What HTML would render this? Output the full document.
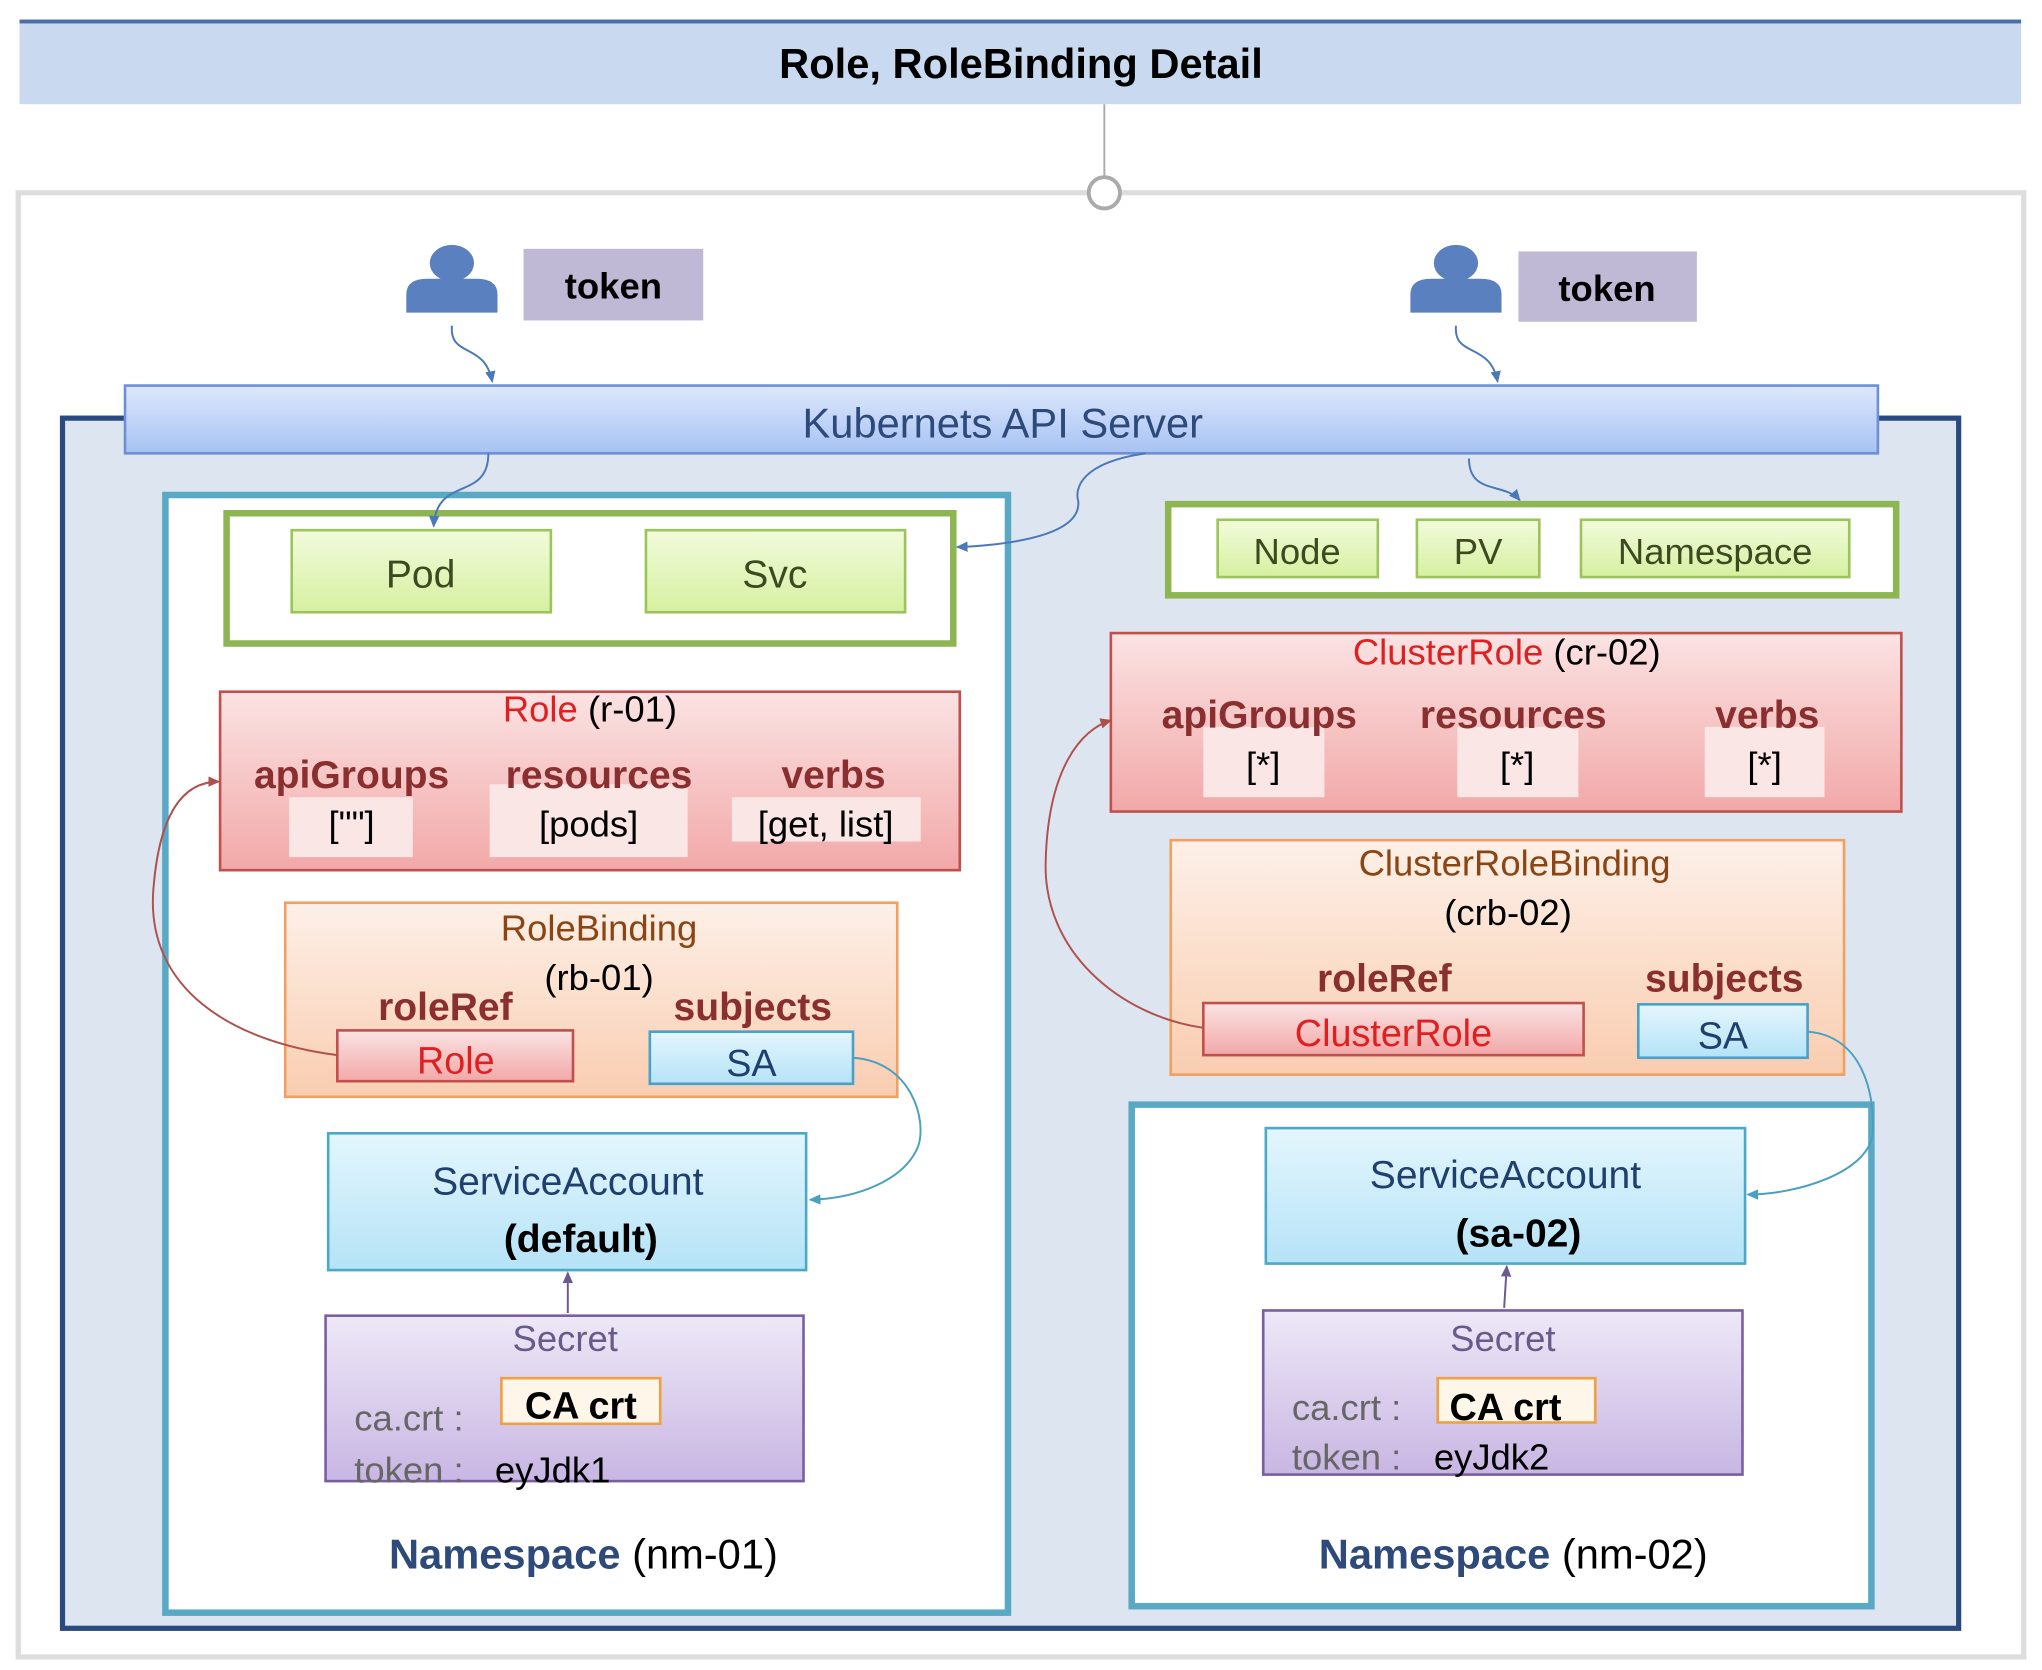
<!DOCTYPE html>
<html><head><meta charset="utf-8"><style>
html,body{margin:0;padding:0;background:#fff;}
svg{display:block;font-family:"Liberation Sans",sans-serif;}
</style></head><body>
<svg width="2042" height="1670" viewBox="0 0 1568 1282" preserveAspectRatio="none" xmlns="http://www.w3.org/2000/svg">
<defs>
<linearGradient id="gb" x1="0" y1="0" x2="0" y2="1"><stop offset="0" stop-color="#dde8fc"/><stop offset="1" stop-color="#a7c2f3"/></linearGradient>
<linearGradient id="gg" x1="0" y1="0" x2="0" y2="1"><stop offset="0" stop-color="#f2fbdc"/><stop offset="1" stop-color="#d6f0a0"/></linearGradient>
<linearGradient id="gr" x1="0" y1="0" x2="0" y2="1"><stop offset="0" stop-color="#fbe3e3"/><stop offset="1" stop-color="#f2a8a8"/></linearGradient>
<linearGradient id="go" x1="0" y1="0" x2="0" y2="1"><stop offset="0" stop-color="#fdf0e8"/><stop offset="1" stop-color="#f9cdb0"/></linearGradient>
<linearGradient id="gc" x1="0" y1="0" x2="0" y2="1"><stop offset="0" stop-color="#e4f6fd"/><stop offset="1" stop-color="#b5e3f7"/></linearGradient>
<linearGradient id="gp" x1="0" y1="0" x2="0" y2="1"><stop offset="0" stop-color="#eee8f7"/><stop offset="1" stop-color="#c8b6e3"/></linearGradient>
<marker id="ab" markerWidth="10" markerHeight="10" refX="8" refY="5" orient="auto" markerUnits="userSpaceOnUse"><path d="M0,1 L9,5 L0,9 z" fill="#4a78b8"/></marker>
<marker id="ar" markerWidth="10" markerHeight="10" refX="8" refY="5" orient="auto" markerUnits="userSpaceOnUse"><path d="M0,1 L9,5 L0,9 z" fill="#b0504d"/></marker>
<marker id="ac" markerWidth="10" markerHeight="10" refX="8" refY="5" orient="auto" markerUnits="userSpaceOnUse"><path d="M0,1 L9,5 L0,9 z" fill="#4aa0c0"/></marker>
<marker id="ap" markerWidth="10" markerHeight="10" refX="8" refY="5" orient="auto" markerUnits="userSpaceOnUse"><path d="M0,1 L9,5 L0,9 z" fill="#6a5a90"/></marker>
</defs>
<!-- title -->
<rect x="15" y="17" width="1537" height="63" fill="#c9d9ef"/>
<rect x="15" y="15" width="1537" height="3" fill="#4a6fa5"/>
<text x="784" y="60" font-size="32" font-weight="bold" text-anchor="middle">Role, RoleBinding Detail</text>
<line x1="848" y1="80" x2="848" y2="136" stroke="#aaa" stroke-width="1.5"/>
<rect x="14" y="148" width="1540" height="1124" fill="#fff" stroke="#ddd" stroke-width="4"/>
<circle cx="848" cy="148" r="12" fill="#fff" stroke="#aaa" stroke-width="3"/>
<!-- dark blue frame -->
<rect x="48" y="321" width="1456" height="929" fill="#dde5f0" stroke="#2a4a7f" stroke-width="4"/>
<!-- users -->
<g fill="#5b80bf">
<ellipse cx="347" cy="202" rx="17" ry="14"/><path d="M312,240 L312,226 Q312,214 328,214 L366,214 Q382,214 382,226 L382,240 z"/>
<ellipse cx="1118" cy="202" rx="17" ry="14"/><path d="M1083,240 L1083,226 Q1083,214 1099,214 L1137,214 Q1153,214 1153,226 L1153,240 z"/>
</g>
<rect x="402" y="191" width="138" height="55" fill="#c0b9d6"/>
<text x="471" y="229" font-size="28" font-weight="bold" text-anchor="middle">token</text>
<rect x="1166" y="193" width="137" height="54" fill="#c0b9d6"/>
<text x="1234" y="231" font-size="28" font-weight="bold" text-anchor="middle">token</text>
<path d="M347,250 C345,275 372,262 378,293" fill="none" stroke="#4a78b8" stroke-width="1.5" marker-end="url(#ab)"/>
<path d="M1118,250 C1116,275 1144,262 1150,293" fill="none" stroke="#4a78b8" stroke-width="1.5" marker-end="url(#ab)"/>
<!-- API -->
<rect x="96" y="296" width="1346" height="52" fill="url(#gb)" stroke="#6d8fd6" stroke-width="2"/>
<text x="770" y="336" font-size="32" fill="#2d4a7a" text-anchor="middle">Kubernets API Server</text>
<!-- left namespace -->
<rect x="127" y="380" width="647" height="858" fill="#fff" stroke="#5aa9c4" stroke-width="5"/>
<rect x="174" y="394" width="558" height="100" fill="#fff" stroke="#8db551" stroke-width="5"/>
<rect x="224" y="407" width="199" height="63" fill="url(#gg)" stroke="#9bc45a" stroke-width="2"/>
<text x="323" y="451" font-size="30" fill="#3d4a1f" text-anchor="middle">Pod</text>
<rect x="496" y="407" width="199" height="63" fill="url(#gg)" stroke="#9bc45a" stroke-width="2"/>
<text x="595" y="451" font-size="30" fill="#3d4a1f" text-anchor="middle">Svc</text>
<path d="M375,348 C375,385 335,365 333,404" fill="none" stroke="#4a78b8" stroke-width="1.5" marker-end="url(#ab)"/>
<path d="M880,348 C830,355 825,375 828,385 C830,410 780,418 735,420" fill="none" stroke="#4a78b8" stroke-width="1.5" marker-end="url(#ab)"/>
<!-- Role -->
<rect x="169" y="531" width="568" height="137" fill="url(#gr)" stroke="#c0504d" stroke-width="2"/>
<text x="453" y="554" font-size="28" text-anchor="middle"><tspan fill="#e02020">Role</tspan> (r-01)</text>
<rect x="222" y="612" width="95" height="46" fill="#fbe6e6"/>
<rect x="376" y="602" width="152" height="56" fill="#fbe6e6"/>
<rect x="562" y="612" width="145" height="34" fill="#fbe6e6"/>
<g font-size="30" font-weight="bold" fill="#8a2f2f" text-anchor="middle">
<text x="270" y="605">apiGroups</text><text x="460" y="605">resources</text><text x="640" y="605">verbs</text></g>
<g font-size="28" text-anchor="middle"><text x="270" y="642">[""]</text><text x="452" y="642">[pods]</text><text x="634" y="642">[get, list]</text></g>
<!-- RoleBinding -->
<rect x="219" y="693" width="470" height="149" fill="url(#go)" stroke="#f0a060" stroke-width="2"/>
<text x="460" y="722" font-size="28" fill="#8b4513" text-anchor="middle">RoleBinding</text>
<text x="460" y="760" font-size="28" text-anchor="middle">(rb-01)</text>
<text x="342" y="783" font-size="30" font-weight="bold" fill="#8a2f2f" text-anchor="middle">roleRef</text>
<text x="578" y="783" font-size="30" font-weight="bold" fill="#8a2f2f" text-anchor="middle">subjects</text>
<rect x="259" y="791" width="181" height="39" fill="url(#gr)" stroke="#c0504d" stroke-width="2"/>
<text x="350" y="824" font-size="29" fill="#e02020" text-anchor="middle">Role</text>
<rect x="499" y="792" width="156" height="40" fill="url(#gc)" stroke="#4aa0c8" stroke-width="2"/>
<text x="577" y="826" font-size="29" fill="#1f3f6f" text-anchor="middle">SA</text>
<path d="M259,810 C180,800 110,760 118,680 C124,610 150,600 168,600" fill="none" stroke="#b0504d" stroke-width="1.5" marker-end="url(#ar)"/>
<!-- SA -->
<rect x="252" y="870" width="367" height="105" fill="url(#gc)" stroke="#4aa8c8" stroke-width="2"/>
<text x="436" y="917" font-size="30" fill="#1f3f6f" text-anchor="middle">ServiceAccount</text>
<text x="446" y="961" font-size="30" font-weight="bold" text-anchor="middle">(default)</text>
<path d="M655,812 C700,815 712,860 705,880 C695,905 660,920 622,921" fill="none" stroke="#4aa0c0" stroke-width="1.5" marker-end="url(#ac)"/>
<!-- Secret -->
<rect x="250" y="1010" width="367" height="127" fill="url(#gp)" stroke="#7a5fa0" stroke-width="2"/>
<path d="M436,1008 L436,977" stroke="#6a5a90" stroke-width="1.5" marker-end="url(#ap)"/>
<text x="434" y="1037" font-size="28" fill="#6a5a8a" text-anchor="middle">Secret</text>
<text x="272" y="1098" font-size="28" fill="#666">ca.crt :</text>
<rect x="385" y="1058" width="122" height="35" fill="#fff6ea" stroke="#f0a040" stroke-width="2"/>
<text x="446" y="1089" font-size="29" font-weight="bold" text-anchor="middle">CA crt</text>
<text x="272" y="1138" font-size="28" fill="#666">token :</text>
<text x="380" y="1138" font-size="28">eyJdk1</text>
<text x="448" y="1204" font-size="32" text-anchor="middle"><tspan font-weight="bold" fill="#2d4a7a">Namespace</tspan> (nm-01)</text>
<!-- right top green -->
<path d="M1128,352 C1128,380 1155,370 1167,384" fill="none" stroke="#4a78b8" stroke-width="1.5" marker-end="url(#ab)"/>
<rect x="897" y="387" width="559" height="70" fill="#fff" stroke="#8db551" stroke-width="5"/>
<rect x="935" y="399" width="123" height="44" fill="url(#gg)" stroke="#9bc45a" stroke-width="2"/>
<text x="996" y="433" font-size="28" fill="#3d4a1f" text-anchor="middle">Node</text>
<rect x="1088" y="399" width="94" height="44" fill="url(#gg)" stroke="#9bc45a" stroke-width="2"/>
<text x="1135" y="433" font-size="28" fill="#3d4a1f" text-anchor="middle">PV</text>
<rect x="1214" y="399" width="206" height="44" fill="url(#gg)" stroke="#9bc45a" stroke-width="2"/>
<text x="1317" y="433" font-size="28" fill="#3d4a1f" text-anchor="middle">Namespace</text>
<!-- ClusterRole -->
<rect x="853" y="486" width="607" height="137" fill="url(#gr)" stroke="#c0504d" stroke-width="2"/>
<text x="1157" y="510" font-size="28" text-anchor="middle"><tspan fill="#e02020">ClusterRole</tspan> (cr-02)</text>
<rect x="924" y="558" width="93" height="54" fill="#fbe6e6"/>
<rect x="1119" y="558" width="93" height="54" fill="#fbe6e6"/>
<rect x="1309" y="558" width="92" height="54" fill="#fbe6e6"/>
<g font-size="30" font-weight="bold" fill="#8a2f2f" text-anchor="middle">
<text x="967" y="559">apiGroups</text><text x="1162" y="559">resources</text><text x="1357" y="559">verbs</text></g>
<g font-size="28" text-anchor="middle"><text x="970" y="597">[*]</text><text x="1165" y="597">[*]</text><text x="1355" y="597">[*]</text></g>
<!-- CRB -->
<rect x="899" y="645" width="517" height="180" fill="url(#go)" stroke="#f0a060" stroke-width="2"/>
<text x="1163" y="672" font-size="28" fill="#8b4513" text-anchor="middle">ClusterRoleBinding</text>
<text x="1158" y="710" font-size="28" text-anchor="middle">(crb-02)</text>
<text x="1063" y="761" font-size="30" font-weight="bold" fill="#8a2f2f" text-anchor="middle">roleRef</text>
<text x="1324" y="761" font-size="30" font-weight="bold" fill="#8a2f2f" text-anchor="middle">subjects</text>
<rect x="924" y="770" width="292" height="40" fill="url(#gr)" stroke="#c0504d" stroke-width="2"/>
<text x="1070" y="803" font-size="29" fill="#e02020" text-anchor="middle">ClusterRole</text>
<rect x="1258" y="771" width="130" height="41" fill="url(#gc)" stroke="#4aa0c8" stroke-width="2"/>
<text x="1323" y="805" font-size="29" fill="#1f3f6f" text-anchor="middle">SA</text>
<path d="M924,789 C860,780 800,730 803,660 C805,590 830,560 853,553" fill="none" stroke="#b0504d" stroke-width="1.5" marker-end="url(#ar)"/>
<!-- right namespace -->
<rect x="869" y="848" width="568" height="385" fill="#fff" stroke="#5aa9c4" stroke-width="5"/>
<rect x="972" y="866" width="368" height="104" fill="url(#gc)" stroke="#4aa8c8" stroke-width="2"/>
<text x="1156" y="912" font-size="30" fill="#1f3f6f" text-anchor="middle">ServiceAccount</text>
<text x="1166" y="957" font-size="30" font-weight="bold" text-anchor="middle">(sa-02)</text>
<path d="M1388,792 C1430,795 1440,840 1438,870 C1435,900 1380,917 1342,917" fill="none" stroke="#4aa0c0" stroke-width="1.5" marker-end="url(#ac)"/>
<rect x="970" y="1006" width="368" height="126" fill="url(#gp)" stroke="#7a5fa0" stroke-width="2"/>
<path d="M1155,1004 L1157,972" stroke="#6a5a90" stroke-width="1.5" marker-end="url(#ap)"/>
<text x="1154" y="1037" font-size="28" fill="#6a5a8a" text-anchor="middle">Secret</text>
<text x="992" y="1090" font-size="28" fill="#666">ca.crt :</text>
<rect x="1104" y="1058" width="121" height="34" fill="#fff6ea" stroke="#f0a040" stroke-width="2"/>
<text x="1156" y="1090" font-size="29" font-weight="bold" text-anchor="middle">CA crt</text>
<text x="992" y="1128" font-size="28" fill="#666">token :</text>
<text x="1101" y="1128" font-size="28">eyJdk2</text>
<text x="1162" y="1204" font-size="32" text-anchor="middle"><tspan font-weight="bold" fill="#2d4a7a">Namespace</tspan> (nm-02)</text>
</svg>
</body></html>
